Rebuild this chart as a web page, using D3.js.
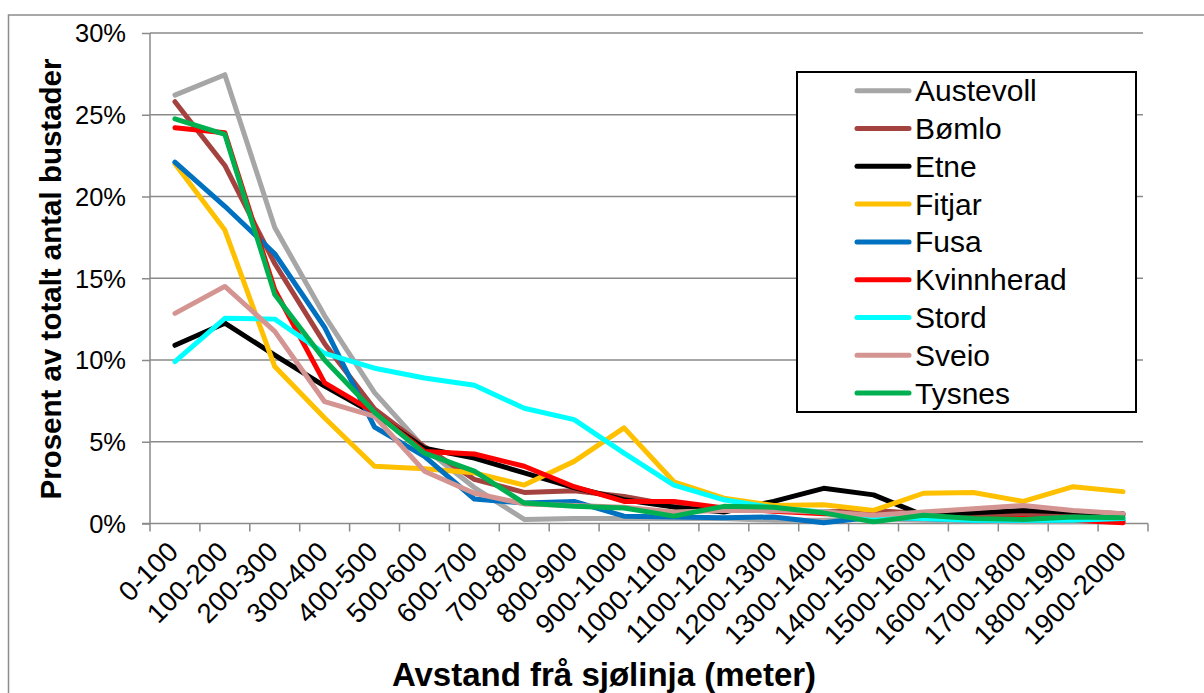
<!DOCTYPE html>
<html>
<head>
<meta charset="utf-8">
<script src="https://cdn.jsdelivr.net/npm/d3@7"></script>
<style>
  body { margin: 0; background: #fff; }
  text { font-family: "Liberation Sans", Arial, sans-serif; fill: #000; }
</style>
</head>
<body>
<svg id="chart"></svg>
<script>
// distance bands along the x axis
const categories = ["0-100", "100-200", "200-300", "300-400", "400-500", "500-600",
  "600-700", "700-800", "800-900", "900-1000", "1000-1100", "1100-1200", "1200-1300",
  "1300-1400", "1400-1500", "1500-1600", "1600-1700", "1700-1800", "1800-1900", "1900-2000"];

// percent of all dwellings
const austevoll = [26.2, 27.45, 18.1, 12.7, 8.0, 4.6, 2.2, 0.25, 0.3, 0.3, 0.3, 0.3, 0.2, 0.2, 0.3, 0.2, 0.15, 0.1, 0.1, 0.1];
const bomlo = [25.8, 21.9, 15.9, 11.0, 7.0, 4.7, 2.7, 1.9, 2.0, 1.65, 1.1, 0.9, 0.8, 0.7, 0.8, 0.6, 0.5, 0.5, 0.6, 0.5];
const etne = [10.9, 12.25, 10.3, 8.4, 6.7, 4.6, 4.0, 3.1, 2.2, 1.45, 1.0, 0.7, 1.35, 2.15, 1.75, 0.5, 0.65, 0.8, 0.7, 0.6];
const fitjar = [22.0, 17.95, 9.6, 6.45, 3.5, 3.35, 3.1, 2.35, 3.8, 5.85, 2.55, 1.55, 1.1, 1.15, 0.8, 1.85, 1.9, 1.35, 2.25, 1.95];
const fusa = [22.1, 19.4, 16.5, 12.0, 5.9, 4.1, 1.5, 1.25, 1.35, 0.45, 0.4, 0.35, 0.4, 0.05, 0.4, 0.3, 0.2, 0.2, 0.2, 0.2];
const kvinnherad = [24.2, 23.9, 14.3, 8.6, 6.8, 4.4, 4.25, 3.5, 2.25, 1.35, 1.35, 0.95, 0.75, 0.6, 0.5, 0.4, 0.3, 0.3, 0.2, 0.05];
const stord = [9.9, 12.55, 12.5, 10.4, 9.5, 8.9, 8.45, 7.05, 6.35, 4.3, 2.35, 1.45, 0.95, 0.7, 0.4, 0.3, 0.2, 0.2, 0.2, 0.3];
const sveio = [12.85, 14.5, 11.75, 7.45, 6.55, 3.2, 1.85, 1.2, 1.1, 1.0, 0.7, 0.8, 0.8, 0.7, 0.5, 0.7, 0.9, 1.1, 0.8, 0.6];
const tysnes = [24.75, 23.8, 14.0, 10.0, 6.8, 4.3, 3.2, 1.25, 1.05, 0.95, 0.45, 1.05, 1.0, 0.65, 0.1, 0.5, 0.3, 0.25, 0.4, 0.35];

const seriesNames = ["Austevoll", "Bømlo", "Etne", "Fitjar", "Fusa", "Kvinnherad", "Stord", "Sveio", "Tysnes"];
const seriesValues = [austevoll, bomlo, etne, fitjar, fusa, kvinnherad, stord, sveio, tysnes];
const seriesColors = ["#A6A6A6", "#A3423F", "#000000", "#FFC000", "#0070C0", "#FF0000", "#00FFFF", "#D49592", "#00B050"];

const yTicks = [0, 5, 10, 15, 20, 25, 30];

let width = 1204;
let height = 693;
let plotLeft = 150, plotRight = 1148, plotTop = 33, plotBottom = 523.5;

let svg = d3.select("#chart").attr("width", width).attr("height", height);

// outer chart border (runs off the right and bottom edge)
svg.append("rect")
  .attr("x", 8.5).attr("y", 15)
  .attr("width", 1210).attr("height", 700)
  .attr("fill", "none").attr("stroke", "#8c8c8c").attr("stroke-width", 1.5);

let xScale = d3.scaleBand().domain(categories).range([plotLeft, plotRight]);
let yScale = d3.scaleLinear().domain([0, 30]).range([plotBottom, plotTop]);

// gridlines
svg.append("g")
  .selectAll("line")
  .data(yTicks.filter((d) => d > 0))
  .enter()
  .append("line")
  .attr("x1", plotLeft).attr("x2", plotRight - 5)
  .attr("y1", (d) => yScale(d)).attr("y2", (d) => yScale(d))
  .attr("stroke", "#8a8a8a").attr("stroke-width", 1.5);

// y axis
let yAxis = d3.axisLeft(yScale)
  .tickValues(yTicks)
  .tickSize(8)
  .tickPadding(16)
  .tickFormat((d) => d + "%");

svg.append("g")
  .attr("id", "y-axis")
  .attr("transform", "translate(" + plotLeft + ",0)")
  .call(yAxis)
  .call((g) => g.select(".domain").attr("stroke", "#8a8a8a").attr("stroke-width", 1.5).attr("d", "M0," + plotTop + "V" + plotBottom))
  .call((g) => g.selectAll(".tick line").attr("stroke", "#8a8a8a").attr("stroke-width", 1.5))
  .call((g) => g.selectAll(".tick text")
    .attr("font-size", 25.5)
    .attr("font-family", "Liberation Sans, Arial, sans-serif")
    .attr("fill", "#000")
    .attr("dy", "0.35em"));

// x axis: ticks at band boundaries
let xAxisG = svg.append("g").attr("id", "x-axis");
xAxisG.append("line")
  .attr("x1", plotLeft - 8).attr("x2", plotRight)
  .attr("y1", plotBottom).attr("y2", plotBottom)
  .attr("stroke", "#8a8a8a").attr("stroke-width", 1.5);

let boundaries = categories.map((c) => xScale(c)).concat([plotRight]);
xAxisG.selectAll("line.tick")
  .data(boundaries)
  .enter()
  .append("line")
  .attr("class", "tick")
  .attr("x1", (d) => d).attr("x2", (d) => d)
  .attr("y1", plotBottom).attr("y2", plotBottom + 8)
  .attr("stroke", "#8a8a8a").attr("stroke-width", 1.5);

xAxisG.selectAll("text")
  .data(categories)
  .enter()
  .append("text")
  .attr("transform", (d) => "translate(" + (xScale(d) + xScale.bandwidth() / 2 - 2) + "," + (plotBottom + 23) + ") rotate(-45)")
  .attr("text-anchor", "end")
  .attr("dy", "0.35em")
  .attr("font-size", 27.5)
  .text((d) => d);

// lines
let line = d3.line()
  .x((d, i) => xScale(categories[i]) + xScale.bandwidth() / 2)
  .y((d) => yScale(d));

svg.append("g")
  .selectAll("path")
  .data(seriesValues)
  .enter()
  .append("path")
  .attr("d", (d) => line(d))
  .attr("fill", "none")
  .attr("stroke", (d, i) => seriesColors[i])
  .attr("stroke-width", 5)
  .attr("stroke-linejoin", "round")
  .attr("stroke-linecap", "round");

// legend
let legend = svg.append("g").attr("id", "legend");
legend.append("rect")
  .attr("x", 797).attr("y", 72)
  .attr("width", 339).attr("height", 340)
  .attr("fill", "#fff").attr("stroke", "#000").attr("stroke-width", 2);

let items = legend.selectAll("g.item")
  .data(seriesNames)
  .enter()
  .append("g")
  .attr("class", "item")
  .attr("transform", (d, i) => "translate(0," + (90.7 + i * 37.8) + ")");

items.append("line")
  .attr("x1", 857).attr("x2", 909)
  .attr("stroke", (d, i) => seriesColors[i])
  .attr("stroke-width", 5)
  .attr("stroke-linecap", "round");

items.append("text")
  .attr("x", 915)
  .attr("dy", "0.35em")
  .attr("font-size", 30)
  .text((d) => d);

// axis titles
svg.append("text")
  .attr("x", 604)
  .attr("y", 686)
  .attr("text-anchor", "middle")
  .attr("font-weight", "bold")
  .attr("font-size", 33)
  .text("Avstand frå sjølinja (meter)");

svg.append("text")
  .attr("transform", "translate(61,279) rotate(-90)")
  .attr("text-anchor", "middle")
  .attr("font-weight", "bold")
  .attr("font-size", 29.5)
  .text("Prosent av totalt antal bustader");
</script>
</body>
</html>
